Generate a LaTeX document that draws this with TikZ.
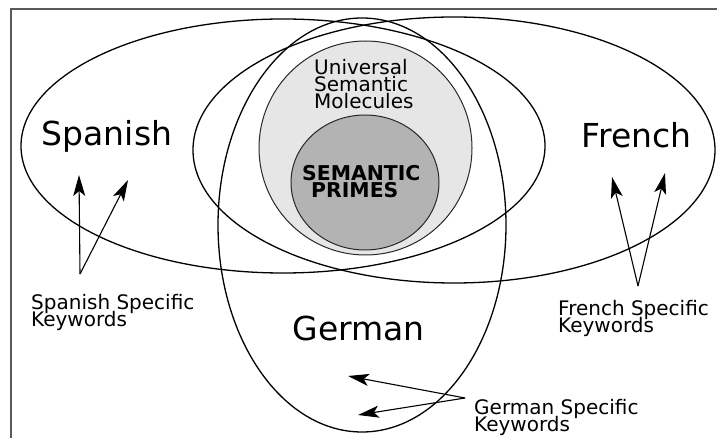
\documentclass[tikz,border=0pt]{standalone}
\usepackage{fontspec}
\setmainfont{DejaVu Sans}
\usetikzlibrary{arrows.meta}
\definecolor{lightfill}{RGB}{230,230,230}
\definecolor{darkfill}{RGB}{179,179,179}
\definecolor{framegray}{RGB}{90,90,90}
\definecolor{circline}{RGB}{40,40,40}
\newcommand{\linestack}[1]{\vtop{\lineskiplimit=-30pt\lineskip=0pt\halign{##\hfil\cr#1\crcr}}}
\tikzset{
  setell/.style={draw=black, line width=1.3pt},
  circ/.style={draw=circline, line width=1pt},
  langlabel/.style={font=\fontsize{33}{38}\selectfont, anchor=base, inner sep=0pt},
  kwlabel/.style={font=\fontsize{20}{17.5}\selectfont, anchor=base west, inner sep=0pt},
  kwarrow/.style={-{Stealth[length=21pt,width=12pt,inset=5pt]}, line width=1.1pt},
}
\begin{document}
\begin{tikzpicture}[x=1pt,y=-1pt]
\useasboundingbox (0,0) rectangle (717,438);
% frame
\draw[framegray, line width=1.2pt] (717,9) -- (11,9) -- (11,438);
% language sets
\draw[setell] (283,146) ellipse [x radius=262pt, y radius=127pt];
\draw[setell] (454,150) ellipse [x radius=261pt, y radius=133pt];
\draw[setell] (362,225) ellipse [x radius=144pt, y radius=207pt];
% universal circles
\draw[circ, fill=lightfill] (365.5,148) ellipse [x radius=106.5pt, y radius=107pt];
\draw[circ, fill=darkfill] (365,182.5) ellipse [x radius=74pt, y radius=67.5pt];
% labels
\node[langlabel] (spanish) at (107,146) {Spanish};
\node[langlabel] (french) at (636.5,148) {French};
\node[langlabel] (german) at (358.5,340) {German};
\node[anchor=base west, inner sep=0pt, font=\fontsize{20}{17}\selectfont] (usm) at (314,75)
  {\linestack{Universal\cr Semantic\cr Molecules}};
\node[anchor=base west, inner sep=0pt, font=\fontsize{20.4}{17}\selectfont\bfseries] (primes) at (302,181)
  {\linestack{SEMANTIC\cr \hspace*{9pt}PRIMES}};
\node[kwlabel] (spkw) at (31,309) {\linestack{Spanish Specific\cr Keywords}};
\node[kwlabel] (frkw) at (558,315) {\linestack{French Specific\cr Keywords}};
\node[kwlabel] (dekw) at (474,414) {\linestack{German Specific\cr Keywords}};
% arrows
\coordinate (sv) at (80,274);
\coordinate (st1) at (79,175);
\coordinate (st2) at (128,180);
\coordinate (fv) at (638,286);
\coordinate (ft1) at (612,177);
\coordinate (ft2) at (665,173);
\coordinate (gv) at (465,398);
\coordinate (gt1) at (348,376);
\coordinate (gt2) at (358,415);
\draw[kwarrow] (sv) -- (st1);
\draw[kwarrow] (sv) -- (st2);
\draw[kwarrow] (fv) -- (ft1);
\draw[kwarrow] (fv) -- (ft2);
\draw[kwarrow] (gv) -- (gt1);
\draw[kwarrow] (gv) -- (gt2);
\end{tikzpicture}
\end{document}
